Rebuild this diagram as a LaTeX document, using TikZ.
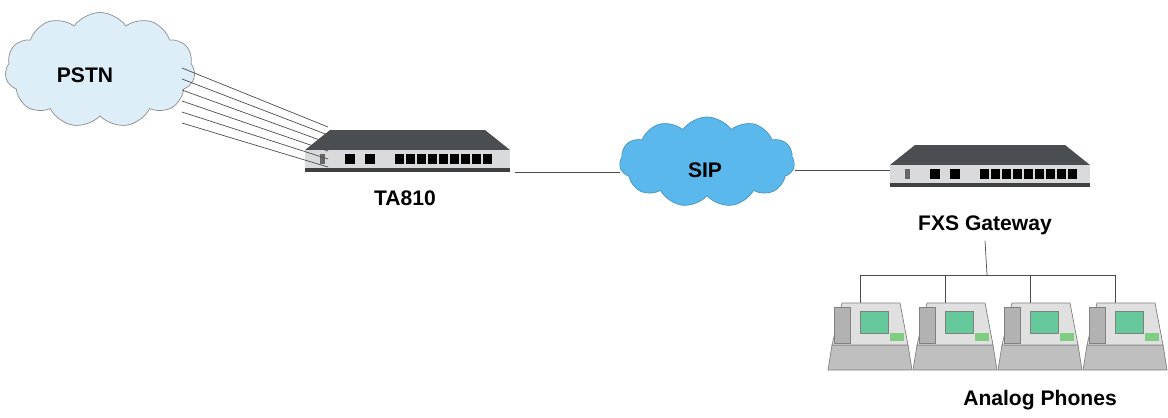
\documentclass[tikz,border=0pt]{standalone}
\usepackage{fontspec}
\setmainfont{Liberation Sans}
\usetikzlibrary{shapes.symbols,positioning}
\definecolor{pstnblue}{HTML}{DDEEF8}
\definecolor{sipblue}{HTML}{5BB8EC}
\definecolor{devtop}{HTML}{4A4D52}
\definecolor{devfront}{HTML}{D8DADC}
\tikzset{
  lbl/.style={font=\bfseries\large},
  wire/.style={draw=black!70, thin},
  netcloud/.style={cloud, cloud puffs=11, cloud puff arc=110, aspect=2, draw=black!45, inner sep=0pt},
}
% router-like box: #1 = left x, #2 = top y, #3 = width
\newcommand{\gatebox}[3]{
  \fill[devtop] (#1+25,#2) -- (#1+#3-25,#2) -- (#1+#3,#2+20) -- (#1,#2+20) -- cycle;
  \fill[devfront] (#1,#2+20) rectangle (#1+#3,#2+40);
  \fill[black!75] (#1,#2+38) rectangle (#1+#3,#2+42);
  \foreach \k in {0,1} \fill[black] (#1+40+\k*20,#2+24) rectangle ++(10,10);
  \foreach \k in {0,...,8} \fill[black] (#1+90+\k*11,#2+24) rectangle ++(9,10);
  \fill[black!60] (#1+15,#2+24) rectangle ++(5,10);
}
% analog phone: #1 = centre x, #2 = centre y
\newcommand{\phone}[2]{
  \fill[black!25, draw=black!50] (#1-38,#2+10) -- (#1+38,#2+10) -- (#1+42,#2+35) -- (#1-42,#2+35) -- cycle;
  \fill[black!12, draw=black!50] (#1-28,#2-32) -- (#1+30,#2-32) -- (#1+38,#2+10) -- (#1-38,#2+10) -- cycle;
  \fill[teal!70!green!60, draw=black!50] (#1-10,#2-24) rectangle (#1+18,#2-2);
  \fill[green!60!black!50] (#1+20,#2-2) rectangle (#1+34,#2+6);
  \fill[black!30, draw=black!50] (#1-36,#2-28) rectangle (#1-20,#2+8);
}
\begin{document}
\begin{tikzpicture}[x=0.02cm, y=-0.02cm]
  \useasboundingbox (0,0) rectangle (1168,417);
  % clouds
  \node[netcloud, fill=pstnblue, minimum width=3.8cm, minimum height=2.3cm] (pstn) at (100,70) {};
  \node[lbl] at (85,75) {PSTN};
  \node[netcloud, fill=sipblue, draw=sipblue!80!black, minimum width=3.5cm, minimum height=1.8cm] (sip) at (707,162) {};
  \node[lbl] at (705,170) {SIP};
  % devices
  \gatebox{305}{130}{205}
  \gatebox{890}{145}{200}
  \node[lbl] (ta) at (405,198) {TA810};
  \node[lbl] (fxs) at (985,225) {FXS Gateway};
  % trunk lines
  \foreach \i in {0,...,5} {
    \coordinate (p\i) at (182,68+\i*11);
    \coordinate (t\i) at (328,127+\i*8);
    \draw[wire] (p\i) -- (t\i);
  }
  \coordinate (taout) at (515,172);
  \coordinate (fxsin) at (890,170);
  \draw[wire] (taout) -- (taout -| sip.west);
  \draw[wire] (fxsin -| sip.east) -- (fxsin);
  % phones
  \coordinate (hub) at (987,275);
  \draw[wire] (fxs.south) -- (hub);
  \draw[wire] (860,275) -- (1115,275);
  \foreach \x [count=\n] in {860,945,1030,1115} {
    \coordinate (d\n) at (\x,303);
    \draw[wire] (\x,275) -- (d\n);
    \phone{\x+10}{335}
  }
  \node[lbl] (ph) at (1040,400) {Analog Phones};
\end{tikzpicture}
\end{document}
